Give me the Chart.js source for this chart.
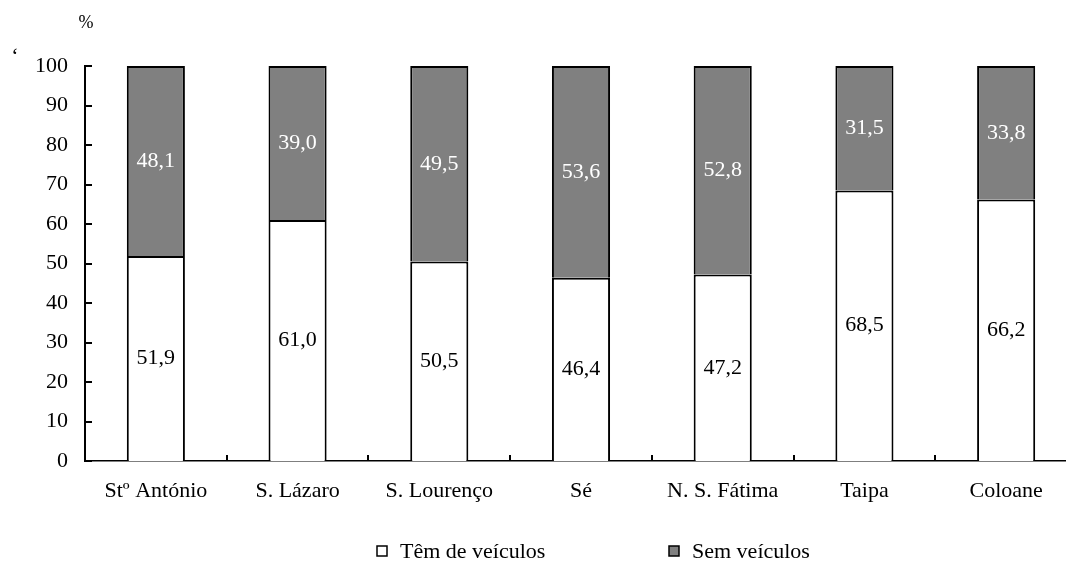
<!DOCTYPE html>
<html>
<head>
<meta charset="utf-8">
<script src="https://cdn.jsdelivr.net/npm/chart.js@4/dist/chart.umd.min.js"></script>
<style>
    html, body { margin: 0; padding: 0; background: #fff; overflow: hidden; }
    #wrap { width: 1080px; height: 562px; }
</style>
</head>
<body>
<div id="wrap"><canvas id="chart"></canvas></div>
<script>
const freguesias = ['St\u00ba Ant\u00f3nio', 'S. L\u00e1zaro', 'S. Louren\u00e7o', 'S\u00e9', 'N. S. F\u00e1tima', 'Taipa', 'Coloane'];
const temVeiculos = [51.9, 61.0, 50.5, 46.4, 47.2, 68.5, 66.2];
const semVeiculos = [48.1, 39.0, 49.5, 53.6, 52.8, 31.5, 33.8];
const seriesNames = ['T\u00eam de ve\u00edculos', 'Sem ve\u00edculos'];

const FONT = '"Liberation Serif", "Times New Roman", serif';
const fmt = v => v.toFixed(1).replace('.', ',');

// ticks pointing inwards, value labels, custom legend, stray marks
const extras = {
    id: 'extras',
    afterDraw(chart) {
        const ctx = chart.ctx;
        const x = chart.scales.x, y = chart.scales.y;
        const area = chart.chartArea;
        ctx.save();
        ctx.strokeStyle = '#000';
        ctx.lineWidth = 2;
        y.ticks.forEach(t => {
            const py = Math.round(y.getPixelForValue(t.value));
            ctx.beginPath();
            ctx.moveTo(area.left, py);
            ctx.lineTo(area.left + 7, py);
            ctx.stroke();
        });
        for (let i = 1; i < freguesias.length; i++) {
            const px = Math.round((x.getPixelForValue(i - 1) + x.getPixelForValue(i)) / 2);
            ctx.beginPath();
            ctx.moveTo(px, area.bottom);
            ctx.lineTo(px, area.bottom - 6);
            ctx.stroke();
        }

        ctx.font = '22px ' + FONT;
        ctx.textAlign = 'center';
        ctx.textBaseline = 'middle';
        chart.data.datasets.forEach((ds, di) => {
            chart.getDatasetMeta(di).data.forEach((bar, i) => {
                const mid = (bar.y + bar.base) / 2;
                ctx.fillStyle = di === 0 ? '#000' : '#fff';
                ctx.fillText(fmt(ds.data[i]), bar.x, mid);
            });
        });

        // legend
        const lx = [377, 669];
        chart.data.datasets.forEach((ds, di) => {
            ctx.fillStyle = ds.backgroundColor;
            ctx.fillRect(lx[di], 546, 10, 10);
            ctx.lineWidth = 1.5;
            ctx.strokeRect(lx[di], 546, 10, 10);
            ctx.fillStyle = '#000';
            ctx.textAlign = 'left';
            ctx.fillText(ds.label, lx[di] + 23, 552);
        });

        ctx.textAlign = 'center';
        ctx.font = '18px ' + FONT;
        ctx.fillText('%', 86, 23);
        ctx.font = '22px ' + FONT;
        ctx.fillText('\u2018', 15, 57);
        ctx.restore();
    }
};

new Chart(document.getElementById('chart'), {
    type: 'bar',
    data: {
        labels: freguesias,
        datasets: [{
            label: seriesNames[0],
            data: temVeiculos,
            backgroundColor: '#ffffff',
            borderColor: '#000',
            borderWidth: 2,
            barPercentage: 0.41,
            categoryPercentage: 1
        }, {
            label: seriesNames[1],
            data: semVeiculos,
            backgroundColor: '#808080',
            borderColor: '#000',
            borderWidth: 2,
            barPercentage: 0.41,
            categoryPercentage: 1
        }]
    },
    options: {
        responsive: true,
        maintainAspectRatio: false,
        animation: false,
        layout: { padding: { top: 66, right: 3, bottom: 0, left: 0 } },
        scales: {
            x: {
                stacked: true,
                grid: { display: false, drawTicks: false },
                border: { display: true, color: '#000', width: 1.5 },
                ticks: { color: '#000', padding: 17, maxRotation: 0, font: { family: FONT, size: 22 } },
                afterFit: s => { s.height = 101; }
            },
            y: {
                stacked: true,
                min: 0,
                max: 100,
                grid: { display: false, drawTicks: false },
                border: { display: true, color: '#000', width: 2 },
                ticks: { stepSize: 10, color: '#000', padding: 17, font: { family: FONT, size: 22 } },
                afterFit: s => { s.width = 85; }
            }
        },
        plugins: {
            legend: { display: false },
            tooltip: { enabled: false }
        }
    },
    plugins: [extras]
});
</script>
</body>
</html>
